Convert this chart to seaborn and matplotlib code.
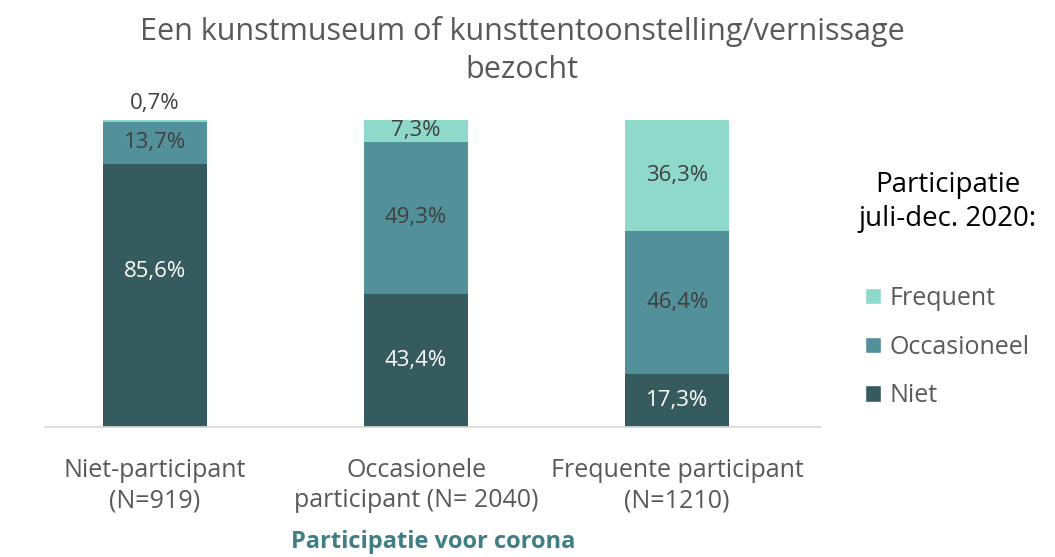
import numpy as np
import pandas as pd
import matplotlib
matplotlib.use("Agg")
import matplotlib.pyplot as plt
import matplotlib.transforms as mtransforms
import seaborn as sns
from matplotlib.patches import Patch

categories = ["Niet-participant\n(N=919)", "Occasionele\nparticipant (N= 2040)", "Frequente participant\n(N=1210)"]
niet = [85.6, 43.4, 17.3]
occasioneel = [13.7, 49.3, 46.4]
frequent = [0.7, 7.3, 36.3]
series_names = ["Frequent", "Occasioneel", "Niet"]

c_niet = "#365B5E"
c_occ = "#52909A"
c_freq = "#8FD9CA"

df = pd.DataFrame({"cat": categories, "Niet": niet, "Occasioneel": occasioneel, "Frequent": frequent})
df["mid"] = df["Niet"] + df["Occasioneel"]
df["top"] = df["mid"] + df["Frequent"]

sns.set_style("white")
plt.rcParams["font.family"] = ["Open Sans", "DejaVu Sans"]

fig = plt.figure(figsize=(10.55, 5.57), dpi=100)
ax = fig.add_axes([0.043, 0.233, 0.735, 0.552])

# stacked bars: draw cumulative totals from top down
sns.barplot(data=df, x="cat", y="top", color=c_freq, width=0.4, saturation=1, linewidth=0, ax=ax)
sns.barplot(data=df, x="cat", y="mid", color=c_occ, width=0.4, saturation=1, linewidth=0, ax=ax)
sns.barplot(data=df, x="cat", y="Niet", color=c_niet, width=0.4, saturation=1, linewidth=0, ax=ax)

ax.set_ylim(0, 100)
ax.set_xlim(-0.42, 2.55)
ax.set_yticks([])
for s in ["top", "right", "left"]:
    ax.spines[s].set_visible(False)
ax.spines["bottom"].set_color("#D9D9D9")
ax.spines["bottom"].set_linewidth(1.2)
ax.tick_params(axis="x", length=0, pad=22, labelsize=18, labelcolor="#595959")
for t in ax.get_xticklabels():
    t.set_linespacing(1.3)

def fmt(v):
    return f"{v:.1f}%".replace(".", ",")

lbl = 16
for i in range(len(categories)):
    shift = mtransforms.ScaledTranslation(0, 0.24 if i == 0 else 0, fig.dpi_scale_trans)
    ax.text(i, niet[i] / 2, fmt(niet[i]), ha="center", va="center",
            color="white", fontsize=lbl, transform=ax.transData + shift)
    ax.text(i, niet[i] + occasioneel[i] / 2, fmt(occasioneel[i]), ha="center", va="center",
            color="#404040", fontsize=lbl)
    if frequent[i] < 3:
        ax.text(i, df["top"][i] + 2, fmt(frequent[i]), ha="center", va="bottom",
                color="#404040", fontsize=lbl)
    else:
        ax.text(i, df["mid"][i] + frequent[i] / 2, fmt(frequent[i]), ha="center", va="center",
                color="#404040", fontsize=lbl)

ax.set_xlabel("Participatie voor corona", fontsize=17, fontweight="bold", color="#3E7E84", labelpad=12)
ax.set_ylabel("")

fig.text(0.495, 0.91, "Een kunstmuseum of kunsttentoonstelling/vernissage\nbezocht", ha="center", va="center",
         fontsize=22, color="#595959", linespacing=1.35)

handles = [Patch(facecolor=c) for c in [c_freq, c_occ, c_niet]]
leg = fig.legend(handles, series_names, title="Participatie\njuli-dec. 2020:", loc="center",
                 bbox_to_anchor=(0.898, 0.48), frameon=False, fontsize=18, title_fontsize=20,
                 handlelength=0.65, handleheight=0.65, handletextpad=0.35, labelspacing=0.95)
for t in leg.get_texts():
    t.set_color("#595959")
leg.get_title().set_color("black")
leg.get_title().set_multialignment("center")
leg.get_title().set_linespacing(1.3)
leg._legend_box.sep = 38

fig.savefig("out.png", dpi=100)
